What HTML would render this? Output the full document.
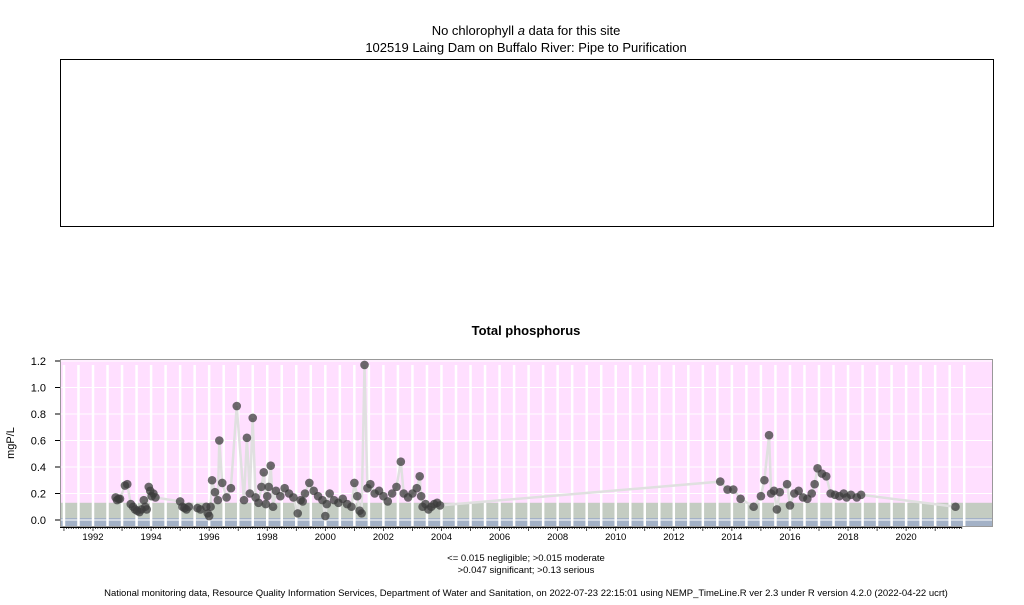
<!DOCTYPE html>
<html><head><meta charset="utf-8">
<style>
body{margin:0;background:#fff;}
svg text{font-family:"Liberation Sans",Arial,sans-serif;fill:#000;}
</style></head>
<body>
<svg id="svg" width="1024" height="600" viewBox="0 0 1024 600" xmlns="http://www.w3.org/2000/svg">
  <text x="526" y="35" font-size="13" text-anchor="middle">No chlorophyll <tspan font-style="italic">a</tspan>  data for this site</text>
  <text x="526" y="52" font-size="13" text-anchor="middle">102519 Laing Dam on Buffalo River: Pipe to Purification</text>
  <rect x="60.5" y="59.5" width="933" height="167" fill="none" stroke="#000"/>
  <text x="526" y="335" font-size="13" font-weight="bold" text-anchor="middle">Total phosphorus</text>
  <text transform="translate(14,443) rotate(-90)" font-size="11" text-anchor="middle">mgP/L</text>
  <g id="plot"></g>
  <text x="526" y="561" font-size="9.5" text-anchor="middle">&lt;= 0.015 negligible; &gt;0.015 moderate</text>
  <text x="526" y="573" font-size="9.5" text-anchor="middle">&gt;0.047 significant; &gt;0.13 serious</text>
  <text x="526" y="596" font-size="9.5" text-anchor="middle">National monitoring data, Resource Quality Information Services, Department of Water and Sanitation, on 2022-07-23 22:15:01 using NEMP_TimeLine.R ver 2.3 under R version 4.2.0 (2022-04-22 ucrt)</text>
</svg>
<script>
const yTicks=[0.0,0.2,0.4,0.6,0.8,1.0,1.2];
const yTickLabels=["0.0","0.2","0.4","0.6","0.8","1.0","1.2"];
const xTickYears=[1992,1994,1996,1998,2000,2002,2004,2006,2008,2010,2012,2014,2016,2018,2020];
const thresholds=[0.015,0.047,0.13];
const dates=[1992.78,1992.83,1992.88,1992.93,1993.1,1993.18,1993.3,1993.38,1993.45,1993.52,1993.6,1993.67,1993.75,1993.8,1993.85,1993.92,1993.97,1994.02,1994.08,1994.15,
1995.0,1995.08,1995.15,1995.22,1995.3,1995.6,1995.7,1995.9,1995.95,1996.0,1996.05,1996.1,1996.2,1996.3,1996.35,1996.45,1996.6,1996.75,1996.95,1997.2,1997.3,1997.4,1997.5,1997.6,
1997.7,1997.8,1997.88,1997.95,1998.0,1998.05,1998.12,1998.2,1998.3,1998.45,1998.6,1998.75,1998.9,1999.05,1999.15,1999.22,1999.3,1999.45,1999.6,1999.75,1999.9,2000.0,2000.05,2000.15,2000.3,2000.45,2000.6,2000.75,2000.9,2001.0,2001.1,2001.18,2001.25,2001.35,2001.45,2001.55,2001.7,2001.85,2002.0,2002.15,2002.3,2002.45,2002.6,2002.7,2002.85,2003.0,2003.15,2003.25,2003.3,2003.35,2003.45,2003.55,2003.65,2003.75,2003.85,2003.95,
2013.6,2013.85,2014.05,2014.3,2014.75,2015.0,2015.12,2015.28,2015.35,2015.45,2015.55,2015.65,2015.9,2016.0,2016.15,2016.3,2016.45,2016.6,2016.75,2016.85,2016.95,2017.1,2017.25,2017.4,2017.55,2017.7,2017.85,2017.95,2018.1,2018.3,2018.45,2021.7];
const values=[0.17,0.15,0.16,0.16,0.26,0.27,0.12,0.1,0.08,0.07,0.06,0.08,0.15,0.1,0.08,0.25,0.22,0.18,0.2,0.17,
0.14,0.1,0.09,0.08,0.1,0.09,0.08,0.1,0.05,0.03,0.1,0.3,0.21,0.15,0.6,0.28,0.17,0.24,0.86,0.15,0.62,0.2,0.77,0.17,
0.13,0.25,0.36,0.12,0.18,0.25,0.41,0.1,0.22,0.18,0.24,0.2,0.17,0.05,0.15,0.14,0.2,0.28,0.22,0.18,0.15,0.03,0.12,0.2,0.15,0.13,0.16,0.12,0.1,0.28,0.18,0.07,0.05,1.17,0.24,0.27,0.2,0.22,0.18,0.14,0.2,0.25,0.44,0.2,0.17,0.2,0.24,0.33,0.18,0.1,0.12,0.08,0.1,0.12,0.13,0.11,
0.29,0.23,0.23,0.16,0.1,0.18,0.3,0.64,0.2,0.22,0.08,0.21,0.27,0.11,0.2,0.22,0.17,0.16,0.2,0.27,0.39,0.35,0.33,0.2,0.19,0.18,0.2,0.17,0.19,0.17,0.19,0.1];

const NS="http://www.w3.org/2000/svg";
const g=document.getElementById('plot');
const L=60,R=993,T=359,B=527;
const xs=y=>93+(y-1992)*29.04;
const ys=v=>520-v*132.5;
function mk(tag,attrs,parent){const e=document.createElementNS(NS,tag);for(const k in attrs)e.setAttribute(k,attrs[k]);(parent||g).appendChild(e);return e;}

let e;
e=mk('rect',{x:L,y:T,width:R-L,height:B-T,fill:'#ffdfff'});


e=mk('rect',{x:L,y:ys(thresholds[2]),width:R-L,height:B-ys(thresholds[2]),fill:'#c4ccc2'});


e=mk('rect',{x:L,y:ys(thresholds[1]),width:R-L,height:B-ys(thresholds[1]),fill:'#c4ccc2'});


e=mk('rect',{x:L,y:ys(thresholds[0]),width:R-L,height:B-ys(thresholds[0]),fill:'#a3b1c6'});


// grid
for(let yr=1991;yr<=2022.01;yr+=0.5){
  const x=xs(yr); if(x<L||x>R-8)continue;
  e=mk('line',{x1:x,x2:x,y1:T+6,y2:B,stroke:'#fff','stroke-width':2.5});
  
  
}
yTicks.forEach(v=>{
  e=mk('line',{x1:L,x2:R,y1:ys(v),y2:ys(v),stroke:'#fff','stroke-width':1});
  
  
});
// series line
let d='';dates.forEach((t,i)=>{d+=(i?'L':'M')+xs(t).toFixed(1)+','+ys(values[i]).toFixed(1);});
e=mk('path',{d:d,fill:'none',stroke:'#e0e0e0','stroke-width':2.5});


dates.forEach((t,i)=>{
  e=mk('circle',{cx:xs(t),cy:ys(values[i]),r:4.3,fill:'#3c3c3c','fill-opacity':0.75});
  
  
});
e=mk('rect',{x:L+0.5,y:T+0.5,width:R-L-1,height:B-T-1,fill:'none',stroke:'#999'});


// y axis
yTicks.forEach((v,i)=>{
  e=mk('line',{x1:L-5,x2:L,y1:ys(v),y2:ys(v),stroke:'#000'});
  
  
  e=mk('text',{x:L-14,y:ys(v)+4,'font-size':11,'text-anchor':'end'});
  e.textContent=yTickLabels[i];
  
  
});
// x axis
e=mk('line',{x1:L,x2:xs(2021.9),y1:B+0.5,y2:B+0.5,stroke:'#000'});


for(let m=0;m<=31*12;m++){
  const x=xs(1991+m/12); if(x>xs(2021.95))break;
  e=mk('line',{x1:x,x2:x,y1:B,y2:B+(m%12==0?4:2),stroke:'#000','stroke-width':0.7});
  
  
}
xTickYears.forEach(yr=>{
  e=mk('text',{x:xs(yr),y:540,'font-size':9.5,'text-anchor':'middle'});
  e.textContent=yr;
  
  
});
</script>
</body></html>
